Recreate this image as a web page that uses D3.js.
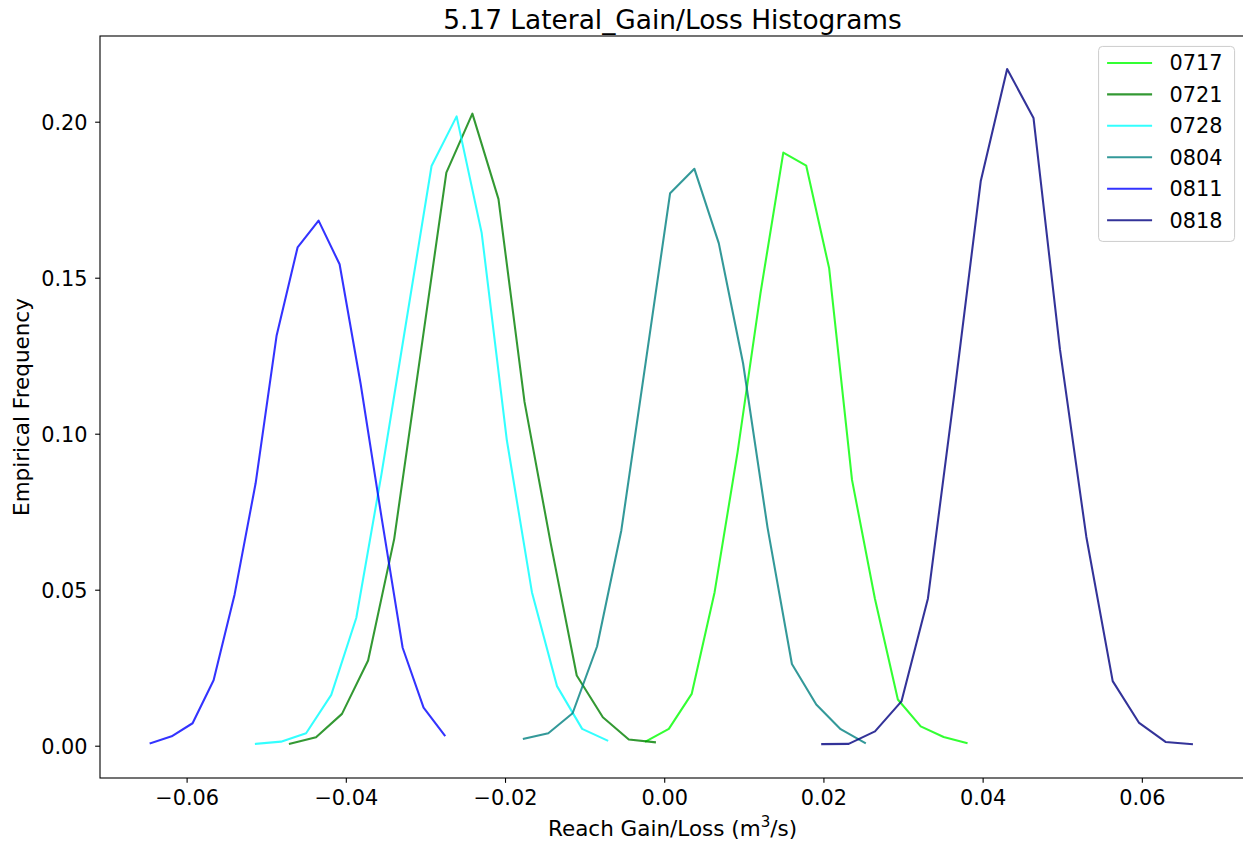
<!DOCTYPE html>
<html>
<head>
<meta charset="utf-8">
<script src="https://cdn.jsdelivr.net/npm/d3@7"></script>
<style>
  html, body { margin: 0; padding: 0; background: #ffffff; }
  svg { display: block; }
  text { font-family: "DejaVu Sans", sans-serif; fill: #000; }
</style>
</head>
<body>
<script>
// Histogram outlines of lateral gain/loss per survey date (bin centre, empirical frequency)
const seriesNames = ["0717", "0721", "0728", "0804", "0811", "0818"];
const seriesColors = ["#00ff00", "#008000", "#00ffff", "#008080", "#0000ff", "#000080"];

const x0717 = [-0.00230, 0.00058, 0.00345, 0.00633, 0.00921, 0.01209, 0.01496, 0.01784, 0.02072, 0.02359, 0.02647, 0.02935, 0.03222, 0.03510, 0.03798];
const y0717 = [0.0014, 0.0054, 0.0166, 0.0492, 0.0940, 0.1450, 0.1901, 0.1859, 0.1530, 0.0852, 0.0471, 0.0148, 0.0062, 0.0028, 0.0009];

const x0721 = [-0.04702, -0.04374, -0.04048, -0.03720, -0.03392, -0.03064, -0.02737, -0.02410, -0.02082, -0.01755, -0.01427, -0.01099, -0.00771, -0.00445, -0.00117];
const y0721 = [0.0006, 0.0027, 0.0102, 0.0273, 0.0663, 0.1250, 0.1837, 0.2026, 0.1752, 0.1102, 0.0650, 0.0225, 0.0091, 0.0020, 0.0011];

const x0728 = [-0.05129, -0.04814, -0.04499, -0.04183, -0.03868, -0.03553, -0.03239, -0.02923, -0.02608, -0.02293, -0.01977, -0.01662, -0.01347, -0.01031, -0.00716];
const y0728 = [0.0006, 0.0013, 0.0040, 0.0163, 0.0410, 0.0869, 0.1362, 0.1858, 0.2017, 0.1643, 0.0979, 0.0492, 0.0191, 0.0054, 0.0017];

const x0804 = [-0.01763, -0.01456, -0.01151, -0.00844, -0.00539, -0.00232, 0.00074, 0.00379, 0.00686, 0.00991, 0.01298, 0.01604, 0.01910, 0.02216, 0.02521];
const y0804 = [0.0022, 0.0040, 0.0104, 0.0318, 0.0690, 0.1230, 0.1771, 0.1849, 0.1610, 0.1225, 0.0699, 0.0262, 0.0132, 0.0053, 0.0009];

const x0811 = [-0.06452, -0.06188, -0.05925, -0.05661, -0.05397, -0.05133, -0.04869, -0.04606, -0.04342, -0.04078, -0.03814, -0.03550, -0.03286, -0.03023, -0.02759];
const y0811 = [0.0008, 0.0030, 0.0072, 0.0210, 0.0485, 0.0841, 0.1315, 0.1597, 0.1683, 0.1543, 0.1160, 0.0730, 0.0314, 0.0122, 0.0033];

const x0818 = [0.01985, 0.02317, 0.02648, 0.02980, 0.03313, 0.03644, 0.03976, 0.04308, 0.04639, 0.04971, 0.05303, 0.05634, 0.05966, 0.06298, 0.06629];
const y0818 = [0.0005, 0.0006, 0.0046, 0.0142, 0.0472, 0.1127, 0.1809, 0.2169, 0.2012, 0.1271, 0.0669, 0.0207, 0.0073, 0.0012, 0.0005];

const xTicks = [-0.06, -0.04, -0.02, 0.00, 0.02, 0.04, 0.06];
const yTicks = [0.00, 0.05, 0.10, 0.15, 0.20];

const titleText = "5.17 Lateral_Gain/Loss Histograms";
const yLabelText = "Empirical Frequency";

const seriesX = [x0717, x0721, x0728, x0804, x0811, x0818];
const seriesY = [y0717, y0721, y0728, y0804, y0811, y0818];
const series = seriesNames.map((name, i) => ({
  name,
  color: seriesColors[i],
  points: seriesX[i].map((xv, j) => ({ x: xv, y: seriesY[i][j] }))
}));

// Figure geometry
const W = 1243, H = 845;
const plot = { left: 100, right: 1245, top: 36, bottom: 778 };
const fs = 20.83;        // tick and legend text
const labelFs = 21.5;    // axis labels
const titleFs = 26.4;
const tickLen = 4.86;
const lineW = 2.08;

const svg = d3.select("body").append("svg")
  .attr("width", W).attr("height", H)
  .attr("viewBox", `0 0 ${W} ${H}`);

svg.append("rect").attr("width", W).attr("height", H).attr("fill", "#ffffff");

const x = d3.scaleLinear().domain([-0.07088, 0.07296]).range([plot.left, plot.right]);
const y = d3.scaleLinear().domain([-0.01035, 0.22747]).range([plot.bottom, plot.top]);

const fmt = d3.format(".2f");

// Axes
const xAxis = svg.append("g")
  .attr("transform", `translate(0,${plot.bottom})`)
  .call(d3.axisBottom(x).tickValues(xTicks).tickFormat(fmt).tickSize(tickLen).tickPadding(tickLen));
const yAxis = svg.append("g")
  .attr("transform", `translate(${plot.left},0)`)
  .call(d3.axisLeft(y).tickValues(yTicks).tickFormat(fmt).tickSize(tickLen).tickPadding(7.6));

[xAxis, yAxis].forEach(g => {
  g.select(".domain").remove();
  g.selectAll(".tick line").attr("stroke", "#000").attr("stroke-width", 1.1);
  g.selectAll(".tick text")
    .attr("font-size", fs)
    .attr("font-family", "DejaVu Sans")
    .attr("fill", "#000");
});
xAxis.selectAll(".tick text").attr("dy", "0.83em");
yAxis.selectAll(".tick text").attr("dy", "0.36em");

// Curves
const line = d3.line().x(d => x(d.x)).y(d => y(d.y));
const curves = svg.append("g");
series.forEach(s => {
  curves.append("path")
    .datum(s.points)
    .attr("d", line)
    .attr("fill", "none")
    .attr("stroke", s.color)
    .attr("stroke-opacity", 0.8)
    .attr("stroke-width", lineW)
    .attr("stroke-linejoin", "round")
    .attr("stroke-linecap", "square");
});

// Spines
const spines = svg.append("g").attr("stroke", "#000").attr("stroke-width", 1.1).attr("fill", "none");
spines.append("rect")
  .attr("x", plot.left).attr("y", plot.top)
  .attr("width", plot.right - plot.left).attr("height", plot.bottom - plot.top);

// Title
svg.append("text")
  .attr("x", (plot.left + plot.right) / 2)
  .attr("y", 29)
  .attr("text-anchor", "middle")
  .attr("font-size", titleFs)
  .text(titleText);

// Axis labels
const xl = svg.append("text")
  .attr("x", (plot.left + plot.right) / 2)
  .attr("y", 836)
  .attr("text-anchor", "middle")
  .attr("font-size", labelFs);
xl.append("tspan").text("Reach Gain/Loss (m");
xl.append("tspan").attr("font-size", labelFs * 0.7).attr("dy", -labelFs * 0.42).text("3");
xl.append("tspan").attr("dy", labelFs * 0.42).text("/s)");

svg.append("text")
  .attr("transform", `translate(29,${(plot.top + plot.bottom) / 2}) rotate(-90)`)
  .attr("text-anchor", "middle")
  .attr("font-size", labelFs)
  .text(yLabelText);

// Legend
const pad = 0.5 * fs;
const legRight = plot.right - pad;
const legTop = plot.top + pad;
const rowH = 31.45;
const legW = 136, legH = 195;
const legend = svg.append("g");
legend.append("rect")
  .attr("x", legRight - legW).attr("y", legTop)
  .attr("width", legW).attr("height", legH)
  .attr("rx", 4).attr("ry", 4)
  .attr("fill", "#ffffff").attr("fill-opacity", 0.8)
  .attr("stroke", "#cccccc").attr("stroke-width", 1);

const rows = legend.selectAll("g.row").data(series).enter().append("g")
  .attr("class", "row")
  .attr("transform", (d, i) => `translate(${legRight - legW}, ${legTop + 16.5 + i * rowH})`);
rows.append("line")
  .attr("x1", 8.5).attr("x2", 53.5).attr("y1", 0).attr("y2", 0)
  .attr("stroke", d => d.color).attr("stroke-opacity", 0.8)
  .attr("stroke-width", lineW);
rows.append("text")
  .attr("x", 70.8).attr("y", 0).attr("dy", "0.36em")
  .attr("font-size", fs)
  .text(d => d.name);
</script>
</body>
</html>
